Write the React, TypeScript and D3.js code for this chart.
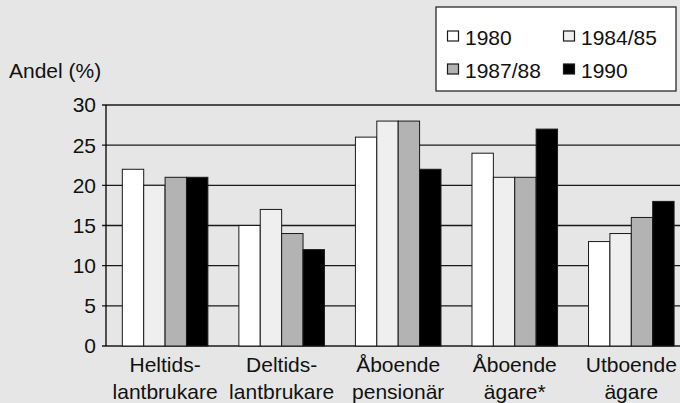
import React, { useRef, useEffect } from "react";
import * as d3 from "d3";

const categories = [
  ["Heltids-", "lantbrukare"],
  ["Deltids-", "lantbrukare"],
  ["Åboende", "pensionär"],
  ["Åboende", "ägare*"],
  ["Utboende", "ägare"],
];
const seriesNames = ["1980", "1984/85", "1987/88", "1990"];
const values1980 = [22, 15, 26, 24, 13];
const values1984 = [20, 17, 28, 21, 14];
const values1987 = [21, 14, 28, 21, 16];
const values1990 = [21, 12, 22, 27, 18];
const yTicks = [0, 5, 10, 15, 20, 25, 30];

const colors = ["#ffffff", "#efefef", "#b3b3b3", "#000000"];
const W = 680;
const H = 403;
const FONT = "'Liberation Sans', Arial, sans-serif";

const App = () => {
  const ref = useRef<SVGSVGElement>(null);

  useEffect(() => {
    const svg = d3.select(ref.current);
    svg.selectAll("*").remove();

    const series = [values1980, values1984, values1987, values1990];
    const catKeys = categories.map((c) => c.join(" "));

    const x = d3
      .scaleBand()
      .domain(catKeys)
      .range([106, 690.4])
      .paddingInner(0.266)
      .paddingOuter(0.14);
    const xs = d3
      .scaleBand()
      .domain(seriesNames)
      .range([0, x.bandwidth()]);
    const y = d3.scaleLinear().domain([0, 30]).range([346, 105]);

    svg
      .append("rect")
      .attr("width", W)
      .attr("height", H)
      .attr("fill", "#e6e6e6");

    // gridlines
    svg
      .append("g")
      .selectAll("line")
      .data(yTicks)
      .join("line")
      .attr("x1", 102)
      .attr("x2", W)
      .attr("y1", (d) => y(d))
      .attr("y2", (d) => y(d))
      .attr("stroke", "#1a1a1a")
      .attr("stroke-width", 1.3);

    // tick labels
    svg
      .append("g")
      .selectAll("text")
      .data(yTicks)
      .join("text")
      .attr("x", 96)
      .attr("y", (d) => y(d))
      .attr("dy", "0.35em")
      .attr("text-anchor", "end")
      .attr("font-size", 21)
      .attr("fill", "#111")
      .text((d) => d);

    // bars
    const groups = svg
      .append("g")
      .selectAll("g")
      .data(catKeys)
      .join("g")
      .attr("transform", (d) => `translate(${x(d)},0)`);

    groups
      .selectAll("rect")
      .data((_, i) => series.map((s, j) => ({ name: seriesNames[j], value: s[i], j })))
      .join("rect")
      .attr("x", (d) => xs(d.name)!)
      .attr("y", (d) => y(d.value))
      .attr("width", xs.bandwidth())
      .attr("height", (d) => y(0) - y(d.value))
      .attr("fill", (d) => colors[d.j])
      .attr("stroke", "#1a1a1a")
      .attr("stroke-width", 1);

    // y axis line
    svg
      .append("line")
      .attr("x1", 106)
      .attr("x2", 106)
      .attr("y1", y(30))
      .attr("y2", y(0))
      .attr("stroke", "#000")
      .attr("stroke-width", 1.3);

    // category labels
    const labels = svg
      .append("g")
      .selectAll("text")
      .data(categories)
      .join("text")
      .attr("text-anchor", "middle")
      .attr("font-size", 21)
      .attr("fill", "#111");
    labels
      .selectAll("tspan")
      .data((d) => d)
      .join("tspan")
      .attr("x", function () {
        const parent = (this as SVGTSpanElement).parentNode as any;
        const c = d3.select(parent).datum() as string[];
        return x(c.join(" "))! + x.bandwidth() / 2;
      })
      .attr("y", (_, i) => (i === 0 ? 372 : 399))
      .text((d) => d);

    // y title
    svg
      .append("text")
      .attr("x", 9)
      .attr("y", 78)
      .attr("font-size", 21)
      .attr("fill", "#111")
      .text("Andel (%)");

    // legend
    const lg = svg.append("g");
    lg.append("rect")
      .attr("x", 436)
      .attr("y", 7)
      .attr("width", 240)
      .attr("height", 84)
      .attr("fill", "#fff")
      .attr("stroke", "#1a1a1a")
      .attr("stroke-width", 1.2);
    const legendPos = [
      [447, 45],
      [563, 45],
      [447, 78],
      [563, 78],
    ];
    const items = lg
      .selectAll("g.item")
      .data(seriesNames)
      .join("g")
      .attr("class", "item")
      .attr("transform", (_, i) => `translate(${legendPos[i][0]},${legendPos[i][1]})`);
    items
      .append("rect")
      .attr("x", 0.5)
      .attr("y", -14)
      .attr("width", 11)
      .attr("height", 10)
      .attr("fill", (_, i) => colors[i])
      .attr("stroke", "#1a1a1a")
      .attr("stroke-width", 1.2);
    items
      .append("text")
      .attr("x", 18)
      .attr("y", 0)
      .attr("font-size", 21)
      .attr("fill", "#111")
      .text((d) => d);
  }, []);

  return (
    <svg
      ref={ref}
      width={W}
      height={H}
      style={{ position: "absolute", left: 0, top: 0, display: "block", fontFamily: FONT }}
    />
  );
};

export default App;
